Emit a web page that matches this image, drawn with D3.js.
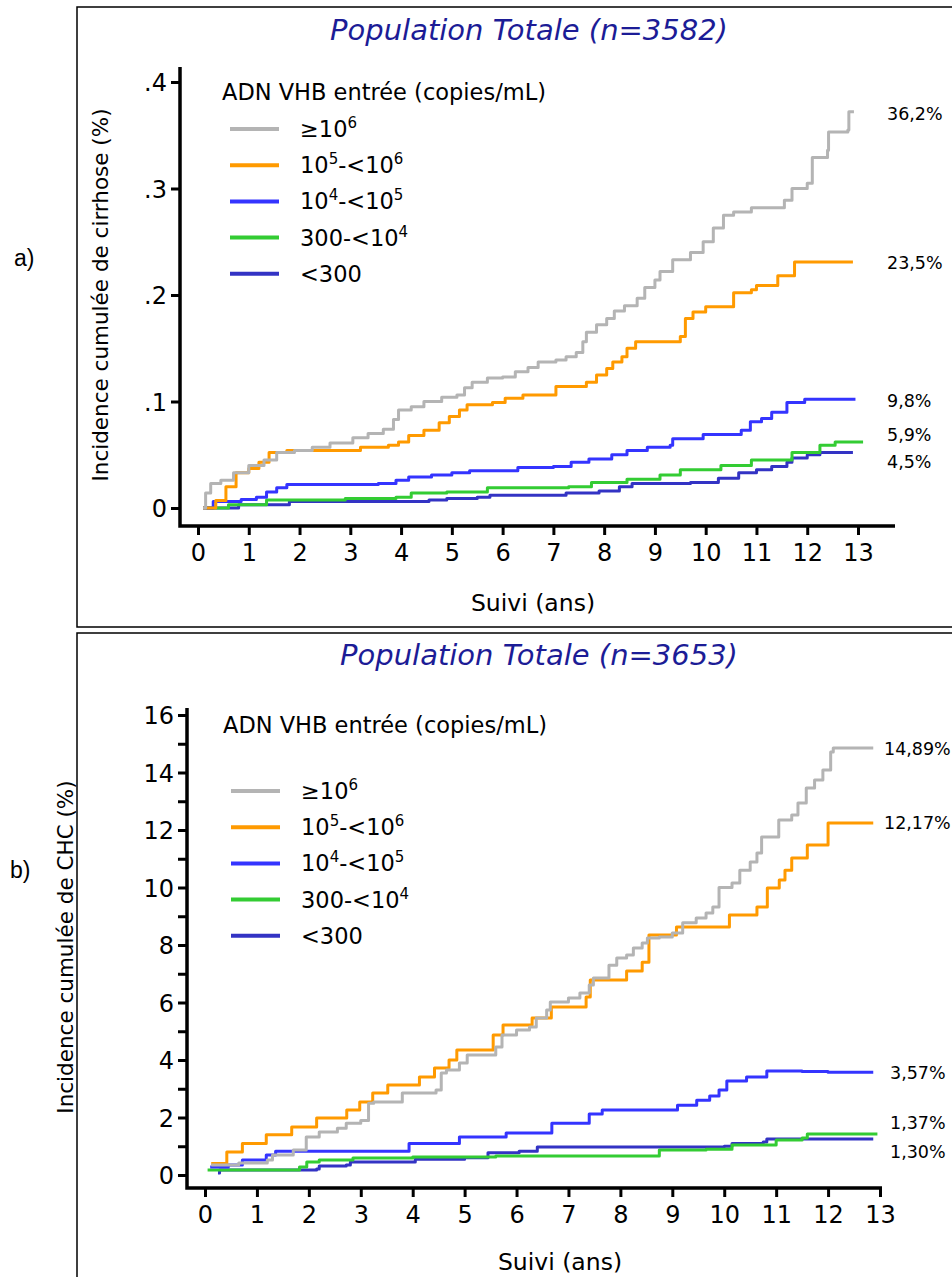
<!DOCTYPE html>
<html>
<head>
<meta charset="utf-8">
<script src="https://cdn.jsdelivr.net/npm/d3@7"></script>
<style>
  body { margin: 0; background: #fff; }
  svg { display: block; font-family: "DejaVu Sans", sans-serif; }
</style>
</head>
<body>
<svg id="chart" width="952" height="1277"></svg>
<script>
// catégories (légende) + couleurs
const groupes = ["≥10^6", "10^5-<10^6", "10^4-<10^5", "300-<10^4", "<300"];
const couleurs = ["#b4b4b4", "#ff9a00", "#3434ff", "#33cc33", "#3333c4"];
const annees = d3.range(0, 14);

// a) cirrhose, [année, incidence]
const cirrGris = [[0.1,0],[0.15,0.014],[0.25,0.023],[0.45,0.026],[0.7,0.033],[1.0,0.04],[1.3,0.045],[1.55,0.052],[1.9,0.054],[2.25,0.057],[2.6,0.061],[3.05,0.066],[3.35,0.07],[3.65,0.074],[3.85,0.083],[3.95,0.092],[4.2,0.095],[4.45,0.1],[4.8,0.104],[5.1,0.106],[5.25,0.113],[5.4,0.118],[5.7,0.122],[6.0,0.123],[6.25,0.128],[6.5,0.132],[6.7,0.137],[7.05,0.139],[7.25,0.142],[7.45,0.146],[7.58,0.156],[7.65,0.165],[7.85,0.172],[8.05,0.178],[8.2,0.185],[8.4,0.19],[8.65,0.197],[8.8,0.207],[9.0,0.214],[9.1,0.222],[9.35,0.233],[9.7,0.24],[9.95,0.25],[10.15,0.263],[10.35,0.275],[10.55,0.278],[10.9,0.282],[11.55,0.289],[11.7,0.3],[12.0,0.305],[12.1,0.329],[12.4,0.336],[12.42,0.353],[12.8,0.355],[12.82,0.372],[12.92,0.372]];
const cirrOrange = [[0.1,0],[0.35,0.007],[0.55,0.02],[0.75,0.033],[1.0,0.037],[1.2,0.043],[1.4,0.052],[1.75,0.054],[3.2,0.057],[3.75,0.059],[3.95,0.062],[4.15,0.068],[4.45,0.073],[4.75,0.08],[4.95,0.086],[5.15,0.092],[5.3,0.097],[5.8,0.099],[6.05,0.103],[6.4,0.106],[7.05,0.114],[7.65,0.118],[7.85,0.125],[8.05,0.131],[8.17,0.137],[8.35,0.142],[8.45,0.15],[8.62,0.156],[9.5,0.161],[9.6,0.178],[9.75,0.184],[10.0,0.189],[10.55,0.202],[10.9,0.205],[11.0,0.209],[11.42,0.218],[11.75,0.231],[12.9,0.231]];
const cirrBleu = [[0.1,0],[0.3,0.006],[0.85,0.008],[1.15,0.01],[1.35,0.015],[1.55,0.019],[1.75,0.022],[3.55,0.023],[3.9,0.026],[4.15,0.029],[4.6,0.031],[5.0,0.033],[5.35,0.035],[6.3,0.038],[7.0,0.039],[7.35,0.043],[7.7,0.046],[8.15,0.05],[8.45,0.054],[8.85,0.057],[9.3,0.059],[9.35,0.065],[9.95,0.069],[10.7,0.073],[10.88,0.081],[11.1,0.084],[11.3,0.09],[11.6,0.099],[11.95,0.102],[12.95,0.102]];
const cirrVert = [[0.1,0],[0.6,0.003],[1.35,0.0075],[2.9,0.009],[3.9,0.01],[4.2,0.014],[4.9,0.015],[5.7,0.019],[7.3,0.02],[7.75,0.024],[8.45,0.027],[9.1,0.031],[9.5,0.036],[10.3,0.04],[10.9,0.045],[11.7,0.052],[12.25,0.059],[12.55,0.062],[13.1,0.062]];
const cirrMarine = [[0.1,0],[0.8,0.003],[1.8,0.006],[4.55,0.0075],[4.9,0.009],[5.5,0.01],[5.75,0.012],[7.25,0.014],[7.9,0.016],[8.3,0.02],[8.55,0.023],[9.7,0.024],[10.25,0.028],[10.65,0.033],[11.0,0.036],[11.3,0.039],[11.6,0.043],[11.7,0.047],[12.0,0.05],[12.25,0.052],[12.9,0.052]];
const cirrFin = ["36,2%", "23,5%", "9,8%", "5,9%", "4,5%"];
const cirrTicks = [0, 0.1, 0.2, 0.3, 0.4];

// b) CHC (%)
const chcGris = [[0.12,0.35],[0.65,0.42],[1.2,0.52],[1.3,0.7],[1.7,0.87],[1.95,1.32],[2.2,1.5],[2.55,1.63],[2.72,1.8],[3.0,1.9],[3.15,2.5],[3.25,2.54],[3.8,2.85],[4.45,2.96],[4.55,3.55],[4.65,3.65],[4.9,3.9],[5.05,4.17],[5.6,4.45],[5.72,4.87],[6.0,5.04],[6.25,5.15],[6.38,5.46],[6.58,5.74],[6.65,6.02],[7.0,6.16],[7.22,6.33],[7.4,6.61],[7.48,6.85],[7.78,7.3],[7.93,7.55],[8.12,7.65],[8.25,7.9],[8.42,8.07],[8.52,8.24],[8.75,8.28],[9.0,8.42],[9.2,8.77],[9.46,8.94],[9.65,9.11],[9.78,9.32],[9.9,10.0],[10.15,10.16],[10.3,10.6],[10.5,10.89],[10.63,11.2],[10.72,11.76],[11.05,12.35],[11.3,12.52],[11.42,12.94],[11.58,13.46],[11.74,13.74],[11.9,14.09],[12.05,14.71],[12.1,14.85],[12.87,14.85]];
const chcOrange = [[0.12,0.4],[0.42,0.8],[0.72,1.1],[1.18,1.4],[1.67,1.67],[2.15,1.98],[2.73,2.26],[2.98,2.54],[3.23,2.85],[3.52,3.13],[4.13,3.41],[4.42,3.72],[4.7,4.0],[4.85,4.35],[5.55,4.87],[5.74,5.22],[6.3,5.46],[6.67,5.84],[7.34,6.19],[7.42,6.78],[8.12,7.1],[8.42,7.4],[8.55,8.35],[9.08,8.63],[10.1,9.04],[10.63,9.32],[10.83,9.98],[11.06,10.26],[11.17,10.6],[11.3,11.03],[11.6,11.48],[12.0,12.24],[12.87,12.24]];
const chcBleu = [[0.1,0.28],[0.45,0.35],[0.72,0.52],[1.18,0.7],[1.36,0.83],[3.93,1.1],[4.9,1.32],[5.8,1.46],[6.68,1.8],[7.4,2.12],[7.65,2.26],[9.1,2.43],[9.47,2.6],[9.72,2.75],[9.9,2.96],[10.05,3.27],[10.43,3.41],[10.82,3.62],[11.5,3.6],[12.0,3.57],[12.87,3.57]];
const chcVert = [[0.05,0.17],[1.82,0.28],[1.96,0.45],[2.2,0.52],[2.85,0.59],[4.0,0.63],[5.6,0.66],[8.75,0.87],[9.65,0.9],[10.15,1.04],[11.0,1.22],[11.5,1.29],[11.6,1.43],[12.95,1.43]];
const chcMarine = [[0.25,0.07],[0.28,0.17],[2.15,0.21],[2.2,0.31],[2.72,0.35],[2.8,0.45],[4.05,0.55],[5.0,0.6],[5.45,0.77],[6.05,0.83],[6.4,0.97],[10.0,1.0],[10.15,1.1],[10.75,1.15],[10.82,1.25],[12.87,1.25]];
const chcFin = ["14,89%", "12,17%", "3,57%", "1,37%", "1,30%"];
const chcTicks = d3.range(0, 17, 2);
const chcMinor = d3.range(1, 16, 2);

const svg = d3.select("#chart");

// cadres
svg.append("path").attr("d", "M952,7 H77 V627 H952").attr("fill", "none").attr("stroke", "#000").attr("stroke-width", 1.5);
svg.append("path").attr("d", "M952,633 H77 V1277").attr("fill", "none").attr("stroke", "#000").attr("stroke-width", 1.5);

svg.append("text").attr("x", 14).attr("y", 266).attr("font-family", "Liberation Sans").attr("font-size", 23).text("a)");
svg.append("text").attr("x", 10).attr("y", 878).attr("font-family", "Liberation Sans").attr("font-size", 23).text("b)");

function panel(cfg) {
  const x = d3.scaleLinear().domain([0, 13]).range(cfg.xr);
  const y = d3.scaleLinear().domain(cfg.yd).range(cfg.yr);
  const g = svg.append("g");
  const ax = cfg.axisX, ay = cfg.axisY; // position des lignes d'axe

  // titre
  g.append("text")
    .attr("x", cfg.titre[1]).attr("y", cfg.titre[2])
    .attr("text-anchor", "middle")
    .attr("font-size", 29).attr("font-style", "italic")
    .attr("fill", "#1c1c96")
    .text(cfg.titre[0]);

  // axe Y
  const yAxis = g.append("g").attr("transform", `translate(${ax},0)`)
    .call(d3.axisLeft(y).tickValues(cfg.ticks).tickSize(9).tickPadding(4).tickFormat(cfg.fmt));
  if (cfg.minor) {
    g.append("g").attr("transform", `translate(${ax},0)`)
      .call(d3.axisLeft(y).tickValues(cfg.minor).tickSize(9).tickFormat(""))
      .call((s) => s.select(".domain").remove())
      .selectAll("line").attr("stroke-width", 3);
  }
  yAxis.select(".domain").remove();
  yAxis.selectAll("line").attr("stroke-width", 3);
  yAxis.selectAll("text").attr("font-size", 24).attr("font-family", "DejaVu Sans").attr("dy", "0.36em");

  // axe X
  const xAxis = g.append("g").attr("transform", `translate(0,${ay})`)
    .call(d3.axisBottom(x).tickValues(annees).tickSize(9).tickPadding(9));
  xAxis.select(".domain").remove();
  xAxis.selectAll("line").attr("stroke-width", 3);
  xAxis.selectAll("text").attr("font-size", 24).attr("font-family", "DejaVu Sans");

  g.append("path")
    .attr("d", `M${ax},${cfg.yTop} V${ay} H${cfg.xEnd}`)
    .attr("fill", "none").attr("stroke", "#000").attr("stroke-width", 3.5);

  // titres d'axe
  g.append("text")
    .attr("transform", `translate(${cfg.yLab[1]},${cfg.yLab[2]}) rotate(-90)`)
    .attr("text-anchor", "middle").attr("font-size", 21.5).attr("dy", "0.35em")
    .text(cfg.yLab[0]);
  g.append("text")
    .attr("x", cfg.xLab[0]).attr("y", cfg.xLab[1])
    .attr("text-anchor", "middle").attr("font-size", 23.5).attr("dy", "0.35em")
    .text("Suivi (ans)");

  // courbes
  const line = d3.line().x((d) => x(d[0])).y((d) => y(d[1])).curve(d3.curveStepAfter);
  const ordre = [4, 3, 2, 1, 0]; // gris dessiné en dernier
  ordre.forEach((i) => {
    g.append("path").datum(cfg.series[i])
      .attr("d", line).attr("fill", "none")
      .attr("stroke", couleurs[i]).attr("stroke-width", 3)
      .attr("stroke-linejoin", "round");
  });

  // valeurs en fin de courbe
  cfg.series.forEach((s, i) => {
    const last = s[s.length - 1];
    g.append("text")
      .attr("x", cfg.finX[i]).attr("y", y(last[1]) + cfg.finDy[i])
      .attr("dy", "0.35em").attr("font-size", 17.5)
      .text(cfg.fin[i]);
  });

  // légende
  const leg = g.append("g");
  leg.append("text").attr("x", cfg.leg[0]).attr("y", cfg.leg[1])
    .attr("dy", "0.35em").attr("font-size", 22.5)
    .text("ADN VHB entrée (copies/mL)");
  groupes.forEach((lab, i) => {
    const yy = cfg.leg[2] + i * 36.2;
    leg.append("line")
      .attr("x1", cfg.leg[0] + 8).attr("x2", cfg.leg[0] + 57)
      .attr("y1", yy).attr("y2", yy)
      .attr("stroke", couleurs[i]).attr("stroke-width", 4);
    const t = leg.append("text").attr("x", cfg.leg[0] + 78).attr("y", yy + 8).attr("font-size", 22.5);
    lab.split(/\^(\d)/).forEach((part, k) => {
      if (!part) return;
      if (k % 2 === 1) {
        t.append("tspan").attr("dy", -9).attr("font-size", 15).text(part);
      } else {
        t.append("tspan").attr("dy", k > 0 ? 9 : 0).text(part);
      }
    });
  });
}

panel({
  titre: ["Population Totale (n=3582)", 529, 40],
  xr: [198, 858], yd: [0, 0.4], yr: [508, 82],
  axisX: 180, axisY: 526, yTop: 67, xEnd: 895,
  ticks: cirrTicks,
  fmt: (d) => (d === 0 ? "0" : d3.format(".1f")(d).replace("0.", ".")),
  yLab: ["Incidence cumulée de cirrhose (%)", 100, 295],
  xLab: [533, 603],
  series: [cirrGris, cirrOrange, cirrBleu, cirrVert, cirrMarine],
  fin: cirrFin, finX: [887, 887, 887, 887, 887], finDy: [2, 1, 2, -7, 9],
  leg: [222, 92, 129]
});

panel({
  titre: ["Population Totale (n=3653)", 539, 665],
  xr: [205, 880], yd: [0, 16], yr: [1175, 715],
  axisX: 187, axisY: 1188, yTop: 708, xEnd: 882,
  ticks: chcTicks, minor: chcMinor,
  fmt: d3.format("d"),
  yLab: ["Incidence cumulée de CHC (%)", 65, 947],
  xLab: [560, 1262],
  series: [chcGris, chcOrange, chcBleu, chcVert, chcMarine],
  fin: chcFin, finX: [884, 884, 890, 890, 890], finDy: [1, 0, 1, -11, 13],
  leg: [223, 725, 791]
});
</script>
</body>
</html>
